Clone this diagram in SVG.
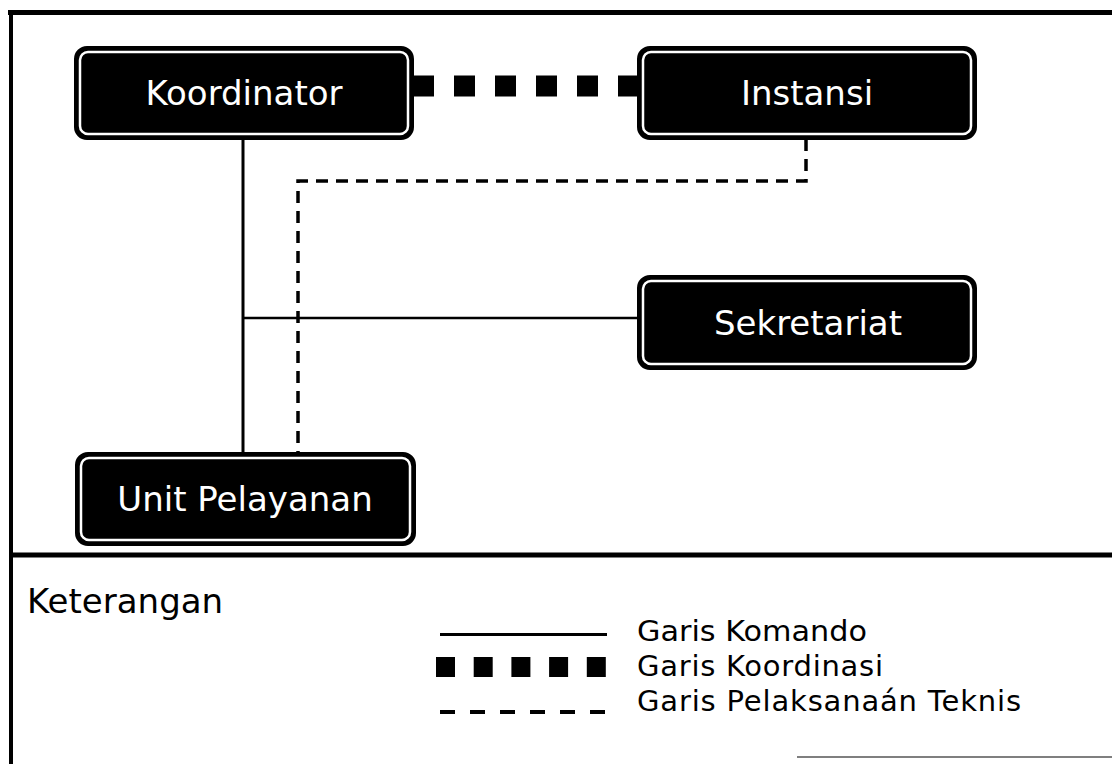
<svg xmlns="http://www.w3.org/2000/svg" width="1112" height="764" viewBox="0 0 1112 764">
<style>
.box{fill:#000;stroke:#000;stroke-width:2}
.inner{fill:none;stroke:#fff;stroke-width:2.5}
.lbl{font-family:"DejaVu Sans",Verdana,sans-serif;font-size:34px;fill:#fff;text-anchor:middle}
.leg{font-family:"DejaVu Sans",Verdana,sans-serif;font-size:29px;fill:#000}
.frame{stroke:#000;fill:none}
</style>
<rect width="1112" height="764" fill="#fff"/>
<g id="frame">
<line class="frame" x1="8" y1="12.5" x2="1112" y2="12.5" stroke-width="5"/>
<line class="frame" x1="11" y1="10" x2="11" y2="764" stroke-width="4"/>
<line class="frame" x1="9" y1="555" x2="1112" y2="555" stroke-width="5"/>
<line x1="797" y1="757" x2="1112" y2="757" stroke="#555" stroke-width="1.5"/>
</g>
<g id="connectors" fill="none" stroke="#000">
<line x1="243" y1="139" x2="243" y2="453" stroke-width="3"/>
<line x1="243" y1="318" x2="638" y2="318" stroke-width="2.5"/>
<path d="M806 139 V181 H298 V453" stroke-width="3.5" stroke-dasharray="12 8"/>
<line x1="413" y1="86" x2="639" y2="86" stroke-width="21" stroke-dasharray="21 20"/>
</g>
<g id="koordinator">
<rect class="box" x="75" y="47" width="338" height="92" rx="12"/>
<rect class="inner" x="80" y="52" width="328" height="82" rx="8"/>
<text class="lbl" x="244" y="105">Koordinator</text>
</g>
<g id="instansi">
<rect class="box" x="638" y="47" width="338" height="92" rx="12"/>
<rect class="inner" x="643" y="52" width="328" height="82" rx="8"/>
<text class="lbl" x="807" y="105">Instansi</text>
</g>
<g id="sekretariat">
<rect class="box" x="638" y="276" width="338" height="93" rx="12"/>
<rect class="inner" x="643" y="281" width="328" height="83" rx="8"/>
<text class="lbl" x="808" y="335">Sekretariat</text>
</g>
<g id="unit-pelayanan">
<rect class="box" x="76" y="453" width="339" height="92" rx="12"/>
<rect class="inner" x="81" y="458" width="329" height="82" rx="8"/>
<text class="lbl" x="245" y="511">Unit Pelayanan</text>
</g>
<g id="legend">
<text x="27" y="613" style="font-family:'DejaVu Sans',Verdana,sans-serif;font-size:34px;fill:#000">Keterangan</text>
<line x1="440" y1="634.5" x2="607" y2="634.5" stroke="#000" stroke-width="3"/>
<line x1="436" y1="667" x2="606" y2="667" stroke="#000" stroke-width="20" stroke-dasharray="19 18.7"/>
<line x1="440" y1="712" x2="608" y2="712" stroke="#000" stroke-width="4" stroke-dasharray="15 15"/>
<text class="leg" x="637" y="641" textLength="230" lengthAdjust="spacingAndGlyphs">Garis Komando</text>
<text class="leg" x="637" y="676" textLength="246">Garis Koordinasi</text>
<text class="leg" x="637" y="711" textLength="384">Garis Pelaksanaán Teknis</text>
</g>
</svg>
